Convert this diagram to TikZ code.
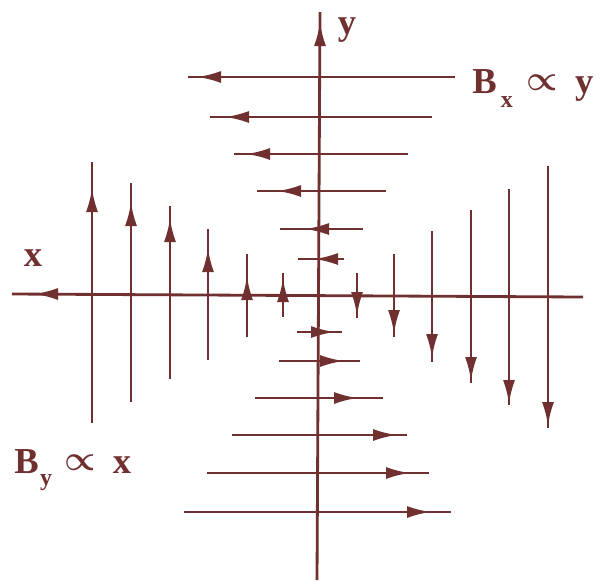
\documentclass[tikz,border=0pt]{standalone}
\usepackage{fontspec}
\setmainfont{Liberation Serif}
\usetikzlibrary{arrows.meta}
\definecolor{fieldred}{RGB}{112,48,48}
\tikzset{
  fieldline/.style={
    draw=fieldred,
    line width=2pt
  },
  fieldarrow/.style={
    fieldline,
    -{Latex[length=6mm,width=3mm]}
  },
  fieldlabel/.style={
    text=fieldred,
    inner sep=0pt,
    font=\fontsize{26}{30}\selectfont\bfseries
  }
}
\newcommand{\fieldsub}[2]{\raisebox{#1}{\fontsize{17}{17}\selectfont #2}}
\newcommand{\fieldprop}{\raisebox{2pt}{\boldmath$\propto$}}

\begin{document}
\begin{tikzpicture}[x=0.025cm, y=-0.025cm]
    \useasboundingbox (0,0) rectangle (602,580);

    % axes
    \coordinate (xend) at (12,294);
    \coordinate (xstart) at (583,297);
    \coordinate (yend) at (320,12);
    \coordinate (ystart) at (317,580);
    \draw[fieldline] (xstart) -- (xend);
    \draw[fieldline] (ystart) -- (yend);
    \draw[fieldarrow] (62,294) -- (34,294);
    \draw[fieldarrow] (320,52) -- (320,22);

    % B_y, left half points up
    \foreach \px/\ptop/\pbot/\ptip in {92/162/423/188, 131/183/402/202, 170/206/379/218, 208/229/360/248, 247/254/337/276, 283/273/317/278}{
      \draw[fieldline] (\px,\ptop) -- (\px,\pbot);
      \draw[fieldarrow] (\px,\ptip+28) -- (\px,\ptip);
    }
    % B_y, right half points down
    \foreach \px/\ptop/\pbot/\ptip in {357/273/318/316, 394/254/337/334, 432/231/362/358, 471/210/383/381, 509/189/405/404, 548/166/428/426}{
      \draw[fieldline] (\px,\ptop) -- (\px,\pbot);
      \draw[fieldarrow] (\px,\ptip-28) -- (\px,\ptip);
    }
    % B_x, upper half points left
    \foreach \py/\pleft/\pright/\ptip in {77/188/455/197, 117/210/432/225, 154/234/408/246, 191/257/386/277, 229/280/363/305, 259/298/344/314}{
      \draw[fieldline] (\pleft,\py) -- (\pright,\py);
      \draw[fieldarrow] (\ptip+28,\py) -- (\ptip,\py);
    }
    % B_x, lower half points right
    \foreach \py/\pleft/\pright/\ptip in {332/297/342/335, 361/279/360/344, 398/255/383/358, 435/232/407/397, 473/207/429/410, 512/184/451/431}{
      \draw[fieldline] (\pleft,\py) -- (\pright,\py);
      \draw[fieldarrow] (\ptip-28,\py) -- (\ptip,\py);
    }

    \node (ylabel) [fieldlabel] at (347,30) {y};
    \node (xlabel) [fieldlabel] at (33,258) {x};
    \node (bxlabel) [fieldlabel, anchor=base west] at (472,93) {B\kern3pt\fieldsub{-10pt}{x}\kern10pt\fieldprop\kern12pt y};
    \node (bylabel) [fieldlabel, anchor=base west] at (14,473) {B\kern1pt\fieldsub{-9pt}{y}\kern9pt\fieldprop\kern12pt x};
\end{tikzpicture}
\end{document}
